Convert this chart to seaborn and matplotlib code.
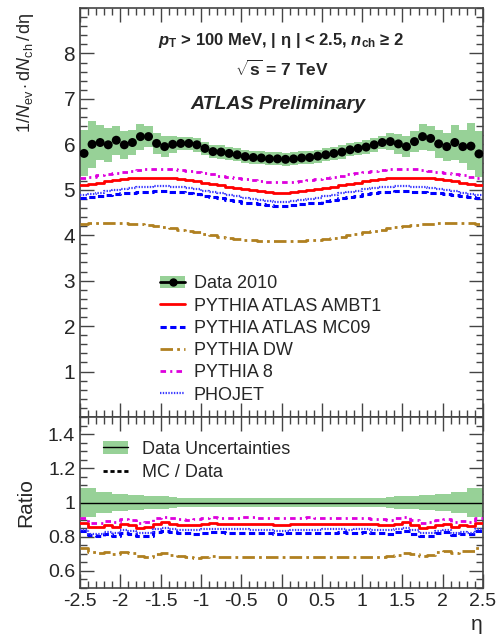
#!/usr/bin/env python3

import numpy as np
import matplotlib
matplotlib.use("Agg")
import matplotlib.pyplot as plt
import seaborn as sns
from matplotlib.lines import Line2D
from matplotlib.patches import Patch
from matplotlib.ticker import MultipleLocator

#========= Data ==================================
eta_lo, eta_hi, nbins = -2.5, 2.5, 50

data_2010 = [5.80, 6.00, 6.04, 5.99, 6.09, 5.99, 6.04, 6.17, 6.17, 6.02,
             5.95, 6.00, 6.02, 6.02, 5.99, 5.91, 5.84, 5.83, 5.80, 5.77,
             5.73, 5.71, 5.70, 5.68, 5.68, 5.67, 5.68, 5.70, 5.71, 5.74,
             5.77, 5.80, 5.83, 5.88, 5.91, 5.94, 5.99, 6.04, 6.06, 6.01,
             5.95, 6.06, 6.17, 6.13, 6.01, 5.95, 6.04, 5.95, 5.96, 5.79]

# relative total uncertainty of the data
data_relerr = [0.087, 0.087, 0.062, 0.062, 0.052, 0.052, 0.046, 0.046, 0.038, 0.038,
               0.038, 0.030, 0.025, 0.025, 0.025, 0.025, 0.025, 0.025, 0.025, 0.025,
               0.025, 0.025, 0.025, 0.025, 0.025, 0.025, 0.025, 0.025, 0.025, 0.025,
               0.025, 0.025, 0.025, 0.025, 0.025, 0.025, 0.025, 0.025, 0.030, 0.038,
               0.038, 0.038, 0.046, 0.046, 0.052, 0.052, 0.062, 0.062, 0.087, 0.087]

ambt1 = [5.10, 5.13, 5.16, 5.19, 5.21, 5.23, 5.25, 5.26, 5.27, 5.27,
         5.27, 5.26, 5.24, 5.22, 5.19, 5.16, 5.13, 5.10, 5.07, 5.04,
         5.01, 4.99, 4.97, 4.95, 4.94, 4.94, 4.95, 4.97, 4.99, 5.01,
         5.04, 5.07, 5.10, 5.13, 5.16, 5.19, 5.22, 5.24, 5.26, 5.27,
         5.27, 5.27, 5.26, 5.25, 5.23, 5.21, 5.19, 5.16, 5.13, 5.10]

mc09 = [4.83, 4.85, 4.87, 4.89, 4.91, 4.93, 4.94, 4.95, 4.96, 4.97,
        4.97, 4.96, 4.95, 4.93, 4.90, 4.87, 4.84, 4.81, 4.78, 4.75,
        4.72, 4.70, 4.68, 4.66, 4.65, 4.65, 4.66, 4.68, 4.70, 4.72,
        4.75, 4.78, 4.81, 4.84, 4.87, 4.90, 4.93, 4.95, 4.96, 4.97,
        4.97, 4.96, 4.95, 4.94, 4.93, 4.91, 4.89, 4.87, 4.85, 4.83]

dw = [4.25, 4.26, 4.27, 4.27, 4.27, 4.26, 4.25, 4.24, 4.22, 4.20,
      4.18, 4.15, 4.12, 4.09, 4.06, 4.03, 4.00, 3.97, 3.94, 3.92,
      3.90, 3.89, 3.88, 3.87, 3.87, 3.87, 3.87, 3.88, 3.89, 3.90,
      3.92, 3.94, 3.97, 4.00, 4.03, 4.06, 4.09, 4.12, 4.15, 4.18,
      4.20, 4.22, 4.24, 4.25, 4.26, 4.27, 4.27, 4.27, 4.26, 4.25]

pythia8 = [5.26, 5.29, 5.32, 5.35, 5.38, 5.40, 5.42, 5.44, 5.45, 5.46,
           5.46, 5.45, 5.44, 5.42, 5.40, 5.37, 5.34, 5.31, 5.28, 5.25,
           5.23, 5.21, 5.19, 5.18, 5.17, 5.17, 5.18, 5.19, 5.21, 5.23,
           5.25, 5.28, 5.31, 5.34, 5.37, 5.40, 5.42, 5.44, 5.45, 5.46,
           5.46, 5.45, 5.44, 5.42, 5.40, 5.38, 5.35, 5.32, 5.29, 5.26]

phojet = [4.88, 4.91, 4.94, 4.97, 5.00, 5.02, 5.04, 5.06, 5.07, 5.08,
          5.08, 5.07, 5.06, 5.04, 5.01, 4.98, 4.95, 4.92, 4.89, 4.86,
          4.83, 4.80, 4.78, 4.76, 4.74, 4.74, 4.76, 4.78, 4.80, 4.83,
          4.86, 4.89, 4.92, 4.95, 4.98, 5.01, 5.04, 5.06, 5.07, 5.08,
          5.08, 5.07, 5.06, 5.04, 5.02, 5.00, 4.97, 4.94, 4.91, 4.88]

mc_names = ["PYTHIA ATLAS AMBT1", "PYTHIA ATLAS MC09", "PYTHIA DW", "PYTHIA 8", "PHOJET"]
mc_values = [ambt1, mc09, dw, pythia8, phojet]
mc_colors = ["#ff0000", "#0000ff", "#b08020", "#dd00dd", "#3a3aff"]
mc_styles = ["-", (0, (4.5, 2.5)), (0, (9, 3, 2, 3)), (0, (4, 3, 1.5, 3)), (0, (1, 1))]
mc_widths = [2.0, 2.2, 2.0, 2.0, 1.6]

green = "#97d197"

#========= Style ===========
sns.set_style("ticks")
plt.rcParams['font.family'] = ['Liberation Sans', 'DejaVu Sans']
plt.rcParams['mathtext.fontset'] = 'custom'
plt.rcParams['mathtext.rm'] = 'Liberation Sans'
plt.rcParams['mathtext.it'] = 'Liberation Sans:italic'
plt.rcParams['mathtext.bf'] = 'Liberation Sans:bold'
plt.rcParams['mathtext.bfit'] = 'Liberation Sans:bold:italic'
plt.rcParams['lines.scale_dashes'] = False

edges = np.linspace(eta_lo, eta_hi, nbins + 1)
centers = 0.5 * (edges[:-1] + edges[1:])
data = np.array(data_2010)
relerr = np.array(data_relerr)


def stepped(v):
    v = np.asarray(v, dtype=float)
    return np.append(v, v[-1])


fig = plt.figure(figsize=(4.96, 6.41), dpi=100)
ax1 = fig.add_axes([80/496, 1-417/641, 403/496, 409/641])
ax2 = fig.add_axes([80/496, 1-588/641, 403/496, 171/641])

# ---- top panel ----
ax1.fill_between(edges, stepped(data*(1-relerr)), stepped(data*(1+relerr)),
                 step='post', color=green, lw=0, zorder=1)
for vals, col, ls, lw in zip(mc_values, mc_colors, mc_styles, mc_widths):
    sns.lineplot(x=edges, y=stepped(vals), drawstyle='steps-post', color=col,
                 linestyle=ls, lw=lw, errorbar=None, ax=ax1, zorder=3)
sns.scatterplot(x=centers, y=data, color='black', s=42, edgecolor='none',
                ax=ax1, zorder=5)

ax1.set_xlim(eta_lo, eta_hi)
ax1.set_ylim(0, 9)
ax1.set_yticks(range(1, 9))
ax1.yaxis.set_minor_locator(MultipleLocator(0.2))
ax1.xaxis.set_major_locator(MultipleLocator(0.5))
ax1.xaxis.set_minor_locator(MultipleLocator(0.1))
ax1.tick_params(labelbottom=False)
ax1.tick_params(axis='y', labelsize=15)
ax1.set_ylabel(r"$1/N_{\rm ev}\cdot{\rm d}N_{\rm ch}\,/\,{\rm dη}$", fontsize=13, loc='top')
ax1.yaxis.set_label_coords(-0.11, 0.99)

ax1.text(0.5, 0.92, r"$\mathbfit{p}_{\mathbf{T}}$ > 100 MeV, | η | < 2.5, $\mathbfit{n}_{\mathbf{ch}}$ ≥ 2",
         transform=ax1.transAxes, ha='center', va='center', fontsize=12, fontweight='bold')
ax1.text(0.5, 0.852, r"$\sqrt{\mathbf{s}}$ = 7 TeV", transform=ax1.transAxes, ha='center',
         va='center', fontsize=12.5, fontweight='bold')
ax1.text(0.49, 0.765, "ATLAS Preliminary", transform=ax1.transAxes, ha='center', va='center',
         fontsize=14, fontweight='bold', fontstyle='italic')

handles = [(Patch(facecolor=green, edgecolor='none'),
            Line2D([], [], color='black', lw=2, marker='o', markersize=5))]
for col, ls, lw in zip(mc_colors, mc_styles, mc_widths):
    handles.append(Line2D([], [], color=col, linestyle=ls, lw=lw))
ax1.legend(handles, ["Data 2010"] + mc_names, loc='upper left', bbox_to_anchor=(0.199, 0.346),
           frameon=False, fontsize=13, handlelength=1.4, handletextpad=0.45,
           labelspacing=0.29, borderaxespad=0, borderpad=0)

# ---- ratio panel ----
ax2.fill_between(edges, stepped(1-relerr), stepped(1+relerr), step='post',
                 color=green, lw=0, zorder=1)
ax2.axhline(1.0, color='black', lw=1, zorder=2)
for vals, col, ls, lw in zip(mc_values, mc_colors, mc_styles, mc_widths):
    sns.lineplot(x=edges, y=stepped(np.array(vals)/data), drawstyle='steps-post',
                 color=col, linestyle=ls, lw=lw, errorbar=None, ax=ax2, zorder=3)

ax2.set_xlim(eta_lo, eta_hi)
ax2.set_ylim(0.5, 1.5)
ax2.set_yticks([0.6, 0.8, 1.0, 1.2, 1.4])
ax2.set_yticklabels(["0.6", "0.8", "1", "1.2", "1.4"])
ax2.yaxis.set_minor_locator(MultipleLocator(0.05))
ax2.xaxis.set_major_locator(MultipleLocator(0.5))
ax2.xaxis.set_minor_locator(MultipleLocator(0.1))
ax2.set_xticks(np.arange(-2.5, 2.51, 0.5))
ax2.set_xticklabels(["-2.5", "-2", "-1.5", "-1", "-0.5", "0", "0.5", "1", "1.5", "2", "2.5"])
ax2.tick_params(labelsize=14)
ax2.set_ylabel("Ratio", fontsize=15)
ax2.yaxis.set_label_coords(-0.11, 0.5)
ax2.set_xlabel("η", fontsize=15, loc='right')

rhandles = [(Patch(facecolor=green, edgecolor='none'), Line2D([], [], color='black', lw=1)),
            Line2D([], [], color='black', lw=2, linestyle=(0, (3, 2)))]
ax2.legend(rhandles, ["Data Uncertainties", "MC / Data"], loc='upper left',
           bbox_to_anchor=(0.057, 0.862), frameon=False, fontsize=13, handlelength=1.4,
           handletextpad=0.75, labelspacing=0.38, borderaxespad=0, borderpad=0)

for ax in (ax1, ax2):
    ax.tick_params(which='both', direction='in', top=True, right=True, color='#444444')
    ax.tick_params(which='major', length=10, width=1)
    ax.tick_params(which='minor', length=5, width=1)
    for s in ax.spines.values():
        s.set_linewidth(1.2)
        s.set_color('#444444')

fig.savefig("out.png", dpi=100)
